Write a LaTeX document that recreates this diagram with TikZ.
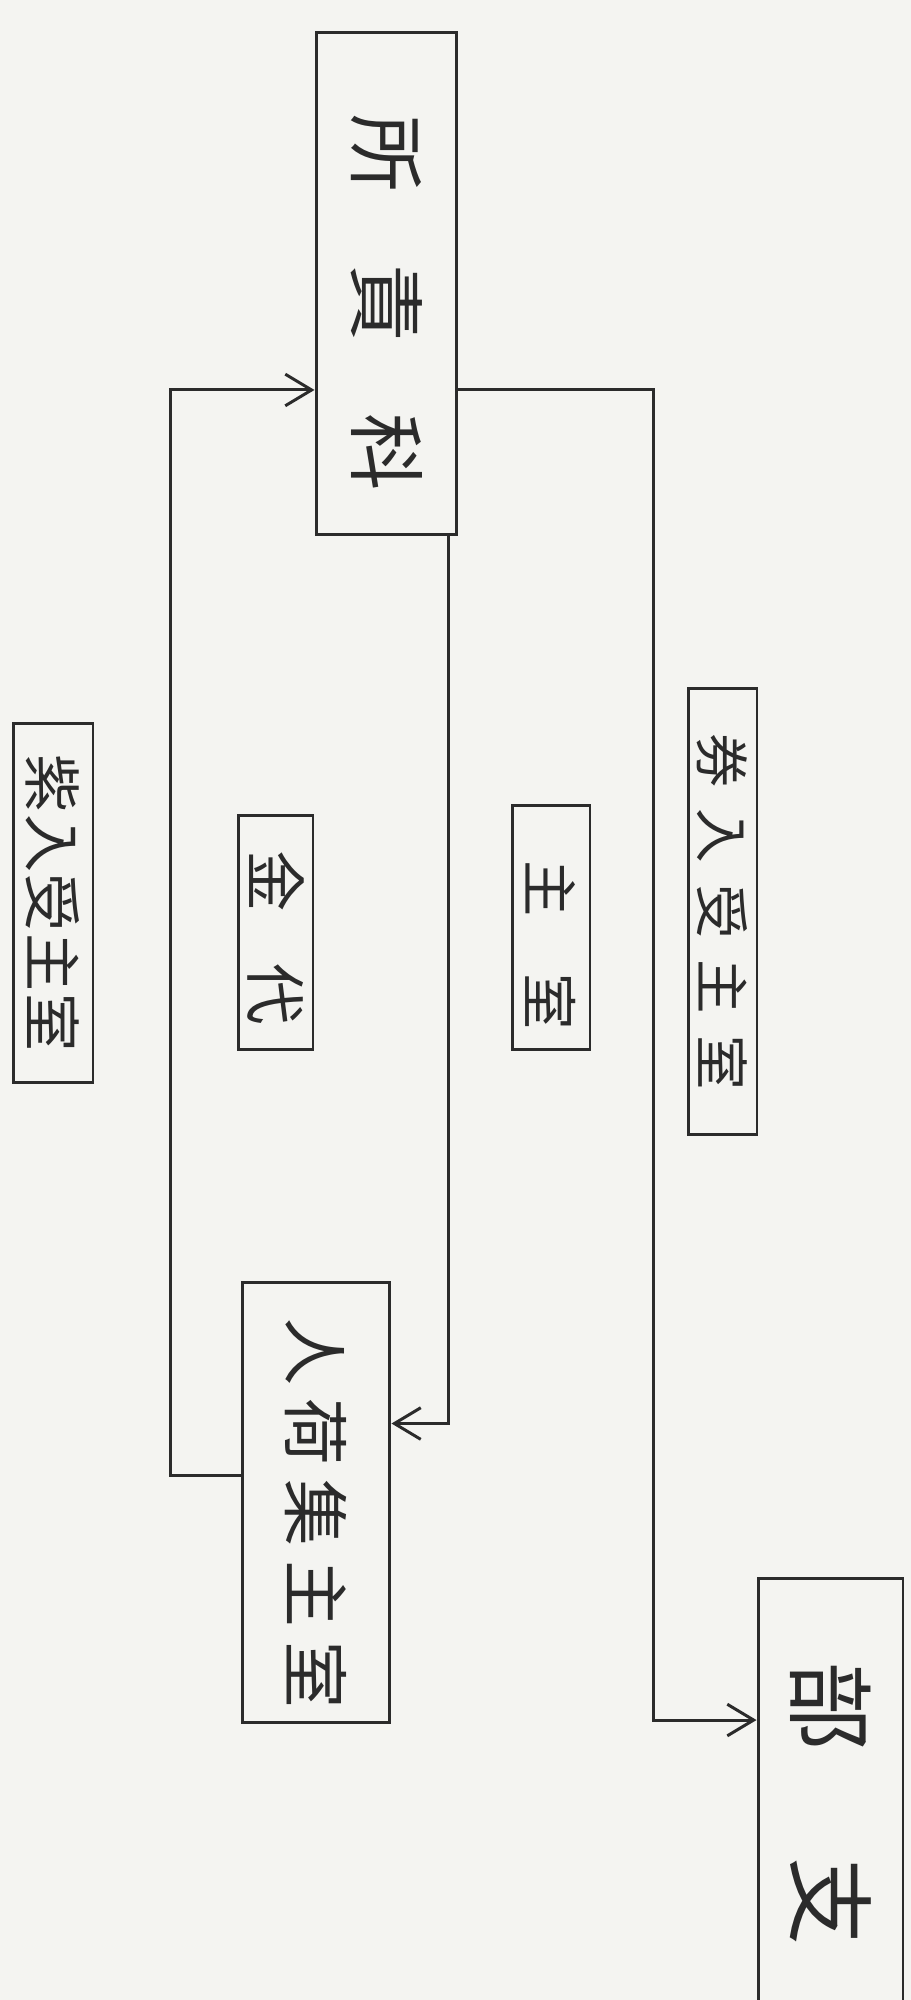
\documentclass[tikz,border=0pt]{standalone}
\usepackage{fontspec}
\newfontfamily\cjk{Noto Sans CJK JP}
\usetikzlibrary{arrows.meta}
\definecolor{paper}{HTML}{F4F4F1}
\definecolor{ink}{HTML}{2B2B2B}
\newcommand{\vlabel}[1]{\rotatebox{-90}{#1}}

\begin{document}
\begin{tikzpicture}[x=0.02cm, y=-0.02cm,
    box/.style={rectangle, draw=ink, line width=1.7pt, inner sep=0pt, text=ink},
    flow/.style={draw=ink, line width=1.7pt, -{Straight Barb[length=15pt,width=18pt,line width=1.7pt]}}
]
\fill[paper] (0,0) rectangle (911,2000);
\useasboundingbox (0,0) rectangle (911,2000);
\clip (0,0) rectangle (911,2000);

% Sales office
\node[box, minimum width=2.82cm, minimum height=10.06cm, font=\cjk\fontsize{44pt}{44pt}\selectfont] (shop) at (386.5,283.5)
    {\vlabel{\hspace{22pt}所\hspace{41pt}責\hspace{41pt}科}};

% Collector
\node[box, minimum width=2.96cm, minimum height=8.82cm, font=\cjk\fontsize{38pt}{38pt}\selectfont] (inbox) at (316,1502.5)
    {\vlabel{\hspace{12pt}人\hspace{8pt}荷\hspace{8pt}集\hspace{8pt}主\hspace{8pt}室}};

% Branch (runs off the page)
\node[box, minimum width=2.9cm, minimum height=9.04cm, font=\cjk\fontsize{50pt}{50pt}\selectfont] (branch) at (830.5,1804)
    {\vlabel{部\hspace{61pt}支}};

% Slips and labels
\node[box, minimum width=1.38cm, minimum height=8.94cm, font=\cjk\fontsize{31pt}{31pt}\selectfont] (slipR) at (722.5,911.5)
    {\vlabel{券\hspace{12pt}入\hspace{12pt}受\hspace{12pt}主\hspace{12pt}室}};
\node[box, minimum width=1.56cm, minimum height=4.9cm, font=\cjk\fontsize{32pt}{32pt}\selectfont] (origin) at (551,927.5)
    {\vlabel{\hspace{20pt}主\hspace{32pt}室}};
\node[box, minimum width=1.5cm, minimum height=4.7cm, font=\cjk\fontsize{35pt}{35pt}\selectfont] (pay) at (275.5,932.5)
    {\vlabel{\hspace{6pt}金\hspace{29pt}代}};
\node[box, minimum width=1.6cm, minimum height=7.2cm, font=\cjk\fontsize{33pt}{33pt}\selectfont] (slipL) at (53,903)
    {\vlabel{紫\hspace{1pt}入\hspace{1pt}受\hspace{1pt}主\hspace{1pt}室}};

% Connectors
\draw[flow] ([yshift=0.54cm]inbox.west) -- ++(-70,0) |- ([yshift=-2.13cm]shop.west);
\draw[flow] ([xshift=-0.2cm]shop.south east) |- ([yshift=1.58cm]inbox.east);
\draw[flow] ([yshift=-2.13cm]shop.east) -- ++(195,0) |- ([yshift=1.68cm]branch.west);

\end{tikzpicture}
\end{document}
